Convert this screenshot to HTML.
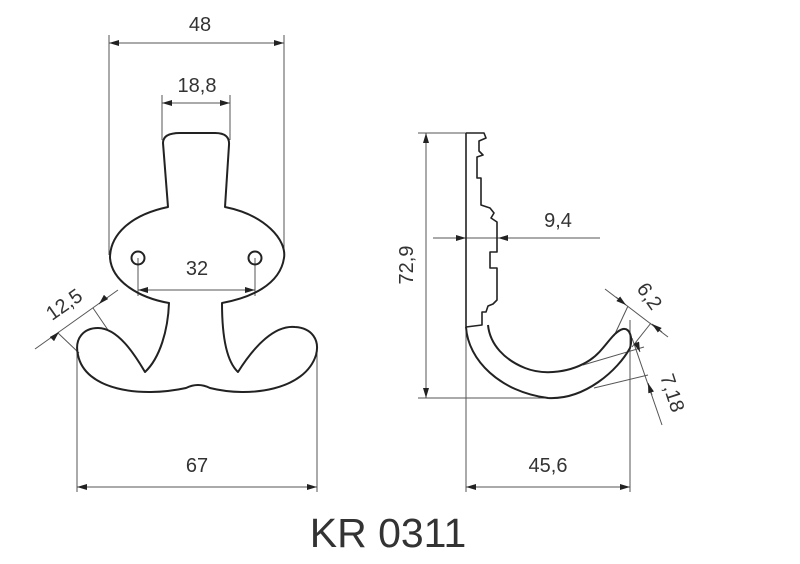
<!DOCTYPE html>
<html><head><meta charset="utf-8"><style>
html,body{margin:0;padding:0;background:#fff;}
svg{display:block;}
text{font-family:"Liberation Sans",sans-serif;fill:#333;}
</style></head><body>
<svg width="800" height="564" viewBox="0 0 800 564" xmlns="http://www.w3.org/2000/svg">
<defs>
<marker id="a" viewBox="0 0 10 6" refX="10" refY="3" markerWidth="10" markerHeight="6" orient="auto-start-reverse" markerUnits="userSpaceOnUse"><path d="M0,0 L10,3 L0,6 z" fill="#222"/></marker>
</defs>
<g stroke="#555" stroke-width="1" fill="none">
<!-- 48 -->
<line x1="109" y1="35" x2="109" y2="255"/>
<line x1="284" y1="35" x2="284" y2="255"/>
<line x1="109" y1="43" x2="284" y2="43" marker-start="url(#a)" marker-end="url(#a)"/>
<!-- 18,8 -->
<line x1="162" y1="95" x2="162" y2="140"/>
<line x1="230" y1="95" x2="230" y2="140"/>
<line x1="162" y1="103" x2="230" y2="103" marker-start="url(#a)" marker-end="url(#a)"/>
<!-- 32 -->
<line x1="138" y1="258" x2="138" y2="296"/>
<line x1="255" y1="258" x2="255" y2="296"/>
<line x1="138" y1="290" x2="255" y2="290" marker-start="url(#a)" marker-end="url(#a)"/>
<!-- 67 -->
<line x1="77" y1="347" x2="77" y2="492"/>
<line x1="317" y1="347" x2="317" y2="492"/>
<line x1="77" y1="487" x2="317" y2="487" marker-start="url(#a)" marker-end="url(#a)"/>
<!-- 12,5 -->
<line x1="35" y1="349" x2="118" y2="290"/>
<line x1="58" y1="333" x2="79" y2="353"/>
<line x1="93" y1="308" x2="108" y2="330"/>
<line x1="58" y1="333" x2="59" y2="332" marker-end="url(#a)"/>
<line x1="100" y1="303" x2="99" y2="304" marker-end="url(#a)"/>
<!-- right: vertical -->
<line x1="466" y1="133" x2="466" y2="492"/>
<line x1="418" y1="133" x2="466" y2="133"/>
<line x1="418" y1="398" x2="560" y2="398"/>
<line x1="426" y1="133" x2="426" y2="398" marker-start="url(#a)" marker-end="url(#a)"/>
<!-- 9,4 -->
<line x1="433" y1="238" x2="600" y2="238"/>
<line x1="455" y1="238" x2="466" y2="238" marker-end="url(#a)"/>
<line x1="512" y1="238" x2="498" y2="238" marker-end="url(#a)"/>
<!-- 45,6 -->
<line x1="630" y1="320" x2="630" y2="492"/>
<line x1="466" y1="487" x2="630" y2="487" marker-start="url(#a)" marker-end="url(#a)"/>
<!-- 6,2 -->
<line x1="605" y1="289" x2="668" y2="337"/>
<line x1="628" y1="306" x2="614" y2="336"/>
<line x1="651" y1="323" x2="632" y2="347"/>
<line x1="616" y1="297" x2="626" y2="305" marker-end="url(#a)"/>
<line x1="662" y1="332" x2="652" y2="324" marker-end="url(#a)"/>
<!-- 7,18 -->
<line x1="632" y1="338" x2="662" y2="425"/>
<line x1="583" y1="365" x2="644" y2="347"/>
<line x1="594" y1="388" x2="648" y2="375"/>
<line x1="636" y1="342" x2="640" y2="352" marker-end="url(#a)"/>
<line x1="652" y1="395" x2="648" y2="383" marker-end="url(#a)"/>
</g>
<g stroke="#222" stroke-width="2" fill="none" stroke-linejoin="round">
<!-- front view hook -->
<path d="M168,207 L163,143 Q163,133 180,133 L215,133 Q230,133 229,145 L225,207
 C265,215 287,240 284,258 C280,285 250,298 222,303
 C222,330 225,360 238,372 C255,345 275,325 295,327 C312,328 320,340 316,355
 C305,390 250,398 210,388 Q198,382 186,388 C140,398 85,390 78,355
 C74,338 84,328 98,328 C118,328 135,355 145,372
 C160,358 168,330 169,303 C140,298 112,282 110,258 C110,235 130,215 168,207 Z"/>
<circle cx="138" cy="258" r="6.5"/>
<circle cx="255" cy="258" r="6.5"/>
<!-- side profile -->
<path d="M466,133 H484 L486,138 L479,141 V151 L483,155 L477,157 V178 H481 V205 L490,208 L494,213 L491,218 L497,222 V252 H490 V268 H497 V300 L493,304 L488,306 L486,312 H482 V325 L466,327 V133" stroke-width="1.6"/>
<path d="M466,327 C468,360 500,392 548,398 C585,400 618,370 630,348 C633,338 630,328 623,329 C612,332 605,350 590,360 C572,372 545,376 525,368 C505,360 490,345 488,325" stroke-width="2"/>
</g>
<g font-size="20">
<text x="200" y="31" text-anchor="middle">48</text>
<text x="197" y="92" text-anchor="middle">18,8</text>
<text x="197" y="275" text-anchor="middle">32</text>
<text x="197" y="472" text-anchor="middle">67</text>
<text x="548" y="472" text-anchor="middle">45,6</text>
<text x="558" y="227" text-anchor="middle">9,4</text>
<text transform="translate(68,310) rotate(-35)" text-anchor="middle">12,5</text>
<text transform="translate(413,265) rotate(-90)" text-anchor="middle">72,9</text>
<text transform="translate(644,300) rotate(55)" text-anchor="middle">6,2</text>
<text transform="translate(666,395) rotate(72)" text-anchor="middle">7,18</text>
</g>
<text x="388" y="547" text-anchor="middle" font-size="41">KR 0311</text>
</svg>
</body></html>
